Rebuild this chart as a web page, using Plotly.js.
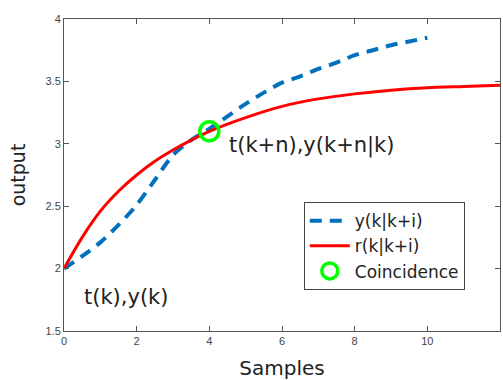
<!DOCTYPE html>
<html>
<head>
<meta charset="utf-8">
<script src="https://cdn.plot.ly/plotly-3.0.1.min.js"></script>
<style>html,body{margin:0;padding:0;background:#fff;}#chart{width:503px;height:380px;}</style>
</head>
<body>
<div id="chart"></div>
<script>
// Predicted output y(k|k+i)
const predT = [0,0.5,1,1.5,2,2.5,3,3.5,4,4.5,5,5.5,6,6.5,7,7.5,8,8.5,9,9.5,10];
const predY = [2.0,2.1,2.21,2.35,2.51,2.71,2.91,3.03,3.12,3.22,3.32,3.41,3.49,3.54,3.6,3.65,3.71,3.75,3.79,3.82,3.85];
// Reference trajectory r(k|k+i)
const refT = [0,0.5,1,1.5,2,2.5,3,3.5,4,5,6,7,8,9,10,11,12];
const refY = [2.0,2.25,2.46,2.62,2.75,2.86,2.95,3.03,3.1,3.21,3.3,3.36,3.4,3.43,3.45,3.46,3.47];
// Coincidence point
const coinT = [4];
const coinY = [3.1];
const seriesNames = ['y(k|k+i)','r(k|k+i)','Coincidence'];
const xTicks = [0,2,4,6,8,10,12];
const yTicks = [1.5,2,2.5,3,3.5,4];
const yTickText = ['1.5','2','2.5','3','3.5','4'];
const labels = [
  {t:0.5, y:1.77, text:'t(k),y(k)'},
  {t:4.49, y:2.99, text:'t(k+n),y(k+n|k)'}
];

const traces = [
  {x:predT, y:predY, name:seriesNames[0], mode:'lines', legendgroup:'a',
   line:{color:'#0072BD', width:4, dash:'12px,8px', shape:'spline', smoothing:0.8}},
  {x:refT, y:refY, name:seriesNames[1], mode:'lines', legendgroup:'b',
   line:{color:'#ff0000', width:3, shape:'spline', smoothing:0.8}},
  {x:coinT, y:coinY, name:seriesNames[2], mode:'markers', legendgroup:'c',
   marker:{symbol:'circle-open', size:19, color:'#00ff00', line:{width:3.5, color:'#00ff00'}}}
];

const axisCommon = {
  showgrid:false, zeroline:false, showline:true, mirror:'ticks',
  linecolor:'#555', linewidth:1, ticks:'inside', ticklen:5, tickcolor:'#555',
  tickfont:{family:'Liberation Sans, Arial, sans-serif', size:11, color:'#444'}
};

const layout = {
  width:503, height:380,
  margin:{l:64, r:3, t:19, b:49},
  paper_bgcolor:'#fff', plot_bgcolor:'#fff',
  font:{family:'DejaVu Sans, sans-serif', color:'#222'},
  xaxis:Object.assign({}, axisCommon, {
    range:[0,12], tickvals:xTicks,
    title:{text:'Samples', font:{family:'DejaVu Sans, sans-serif', size:20, color:'#222'}, standoff:15}
  }),
  yaxis:Object.assign({}, axisCommon, {
    range:[1.5,4], tickvals:yTicks, ticktext:yTickText,
    title:{text:'output', font:{family:'DejaVu Sans, sans-serif', size:19, color:'#222'}, standoff:14}
  }),
  showlegend:true,
  legend:{
    x:0.55, y:0.413, xanchor:'left', yanchor:'top',
    bordercolor:'#444', borderwidth:1, bgcolor:'#fff',
    font:{family:'DejaVu Sans, sans-serif', size:17, color:'#222'},
    traceorder:'grouped', tracegroupgap:0, itemwidth:40
  },
  annotations: labels.map(l => ({
    x:l.t, y:l.y, xref:'x', yref:'y', text:l.text, showarrow:false,
    xanchor:'left', yanchor:'middle',
    font:{family:'DejaVu Sans, sans-serif', size:21, color:'#222'}
  }))
};

Plotly.newPlot('chart', traces, layout, {staticPlot:true, displayModeBar:false});
</script>
</body>
</html>
